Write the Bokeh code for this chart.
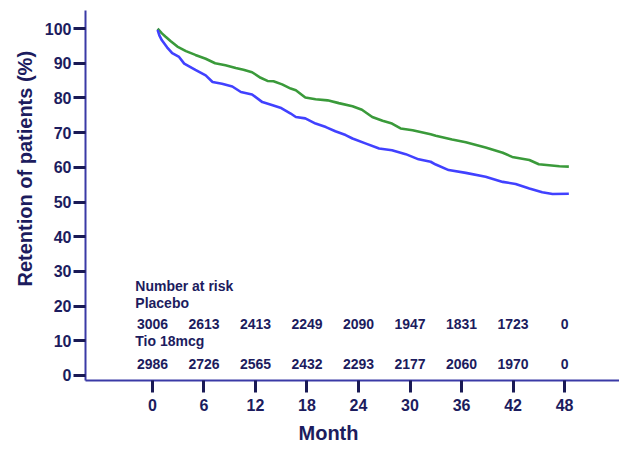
from bokeh.plotting import figure
from bokeh.models import ColumnDataSource, FixedTicker, Label, Range1d, Title
from bokeh.core.properties import value
from bokeh.embed import file_html
from bokeh.resources import INLINE

# ---- data ----
tio_months = [0.6, 1.1, 1.5, 2.1, 2.9, 3.9, 5.0, 6.2, 7.3, 8.5, 9.7, 10.6, 11.6, 12.6, 13.4,
              14.1, 15.1, 16.1, 16.7, 17.8, 19.0, 20.4, 21.7, 23.3, 24.4, 25.6, 26.8, 27.9,
              28.9, 30.3, 32.4, 33.0, 34.9, 36.5, 38.8, 40.8, 41.9, 43.9, 45.0, 46.2, 47.4, 48.5]
tio_retention = [100.0, 98.6, 97.7, 96.4, 94.8, 93.5, 92.4, 91.3, 90.0, 89.4, 88.6, 88.1, 87.4,
                 85.8, 84.9, 84.8, 83.9, 82.7, 82.2, 80.1, 79.6, 79.3, 78.5, 77.6, 76.6, 74.5,
                 73.4, 72.6, 71.2, 70.7, 69.5, 69.1, 68.0, 67.2, 65.7, 64.2, 63.0, 62.1, 60.9,
                 60.6, 60.3, 60.2]

placebo_months = [0.6, 0.8, 1.1, 1.7, 2.3, 3.1, 3.7, 5.0, 6.2, 7.0, 8.1, 9.3, 10.3, 11.6, 12.8,
                  14.0, 14.9, 16.1, 16.7, 17.8, 19.0, 20.2, 21.3, 22.5, 23.3, 24.8, 26.4, 27.9,
                  29.5, 31.0, 32.4, 33.0, 34.5, 36.5, 38.8, 40.8, 42.3, 43.9, 45.4, 46.6, 48.5]
placebo_retention = [99.6, 98.0, 96.6, 94.6, 92.9, 91.8, 89.9, 88.1, 86.5, 84.6, 84.1, 83.3,
                     81.7, 81.0, 78.8, 77.9, 77.2, 75.5, 74.5, 74.1, 72.6, 71.6, 70.4, 69.3,
                     68.3, 66.9, 65.4, 64.9, 63.8, 62.3, 61.6, 60.8, 59.2, 58.4, 57.3, 55.8,
                     55.2, 53.9, 52.8, 52.3, 52.4]

risk_months = [0, 6, 12, 18, 24, 30, 36, 42, 48]
risk_placebo = ["3006", "2613", "2413", "2249", "2090", "1947", "1831", "1723", "0"]
risk_tio = ["2986", "2726", "2565", "2432", "2293", "2177", "2060", "1970", "0"]

x_ticks = [0, 6, 12, 18, 24, 30, 36, 42, 48]
y_ticks = [0, 10, 20, 30, 40, 50, 60, 70, 80, 90, 100]

# ---- styling ----
NAVY = "#1c1c5e"
AXIS = "#3a3aa6"
TICK = "#1a1a55"
GREEN = "#3a9a3a"
BLUE = "#4141ff"
FONT = "Liberation Sans"

p = figure(width=619, height=449, output_backend="svg", toolbar_location=None,
           x_range=Range1d(-7.8, 54.4), y_range=Range1d(-1.45, 105.2),
           min_border_left=85, min_border_right=0, min_border_top=10, min_border_bottom=68)
p.outline_line_color = None
p.xgrid.visible = False
p.ygrid.visible = False
p.background_fill_color = "white"

for ax in (p.xaxis[0], p.yaxis[0]):
    ax.axis_line_color = AXIS
    ax.axis_line_width = 2
    ax.major_tick_line_color = TICK
    ax.major_tick_line_width = 3
    ax.major_tick_in = 0
    ax.major_tick_out = 12
    ax.minor_tick_line_color = None
    ax.major_label_text_font = FONT
    ax.major_label_text_font_style = "bold"
    ax.major_label_text_font_size = "16px"
    ax.major_label_text_color = NAVY

p.xaxis.ticker = FixedTicker(ticks=x_ticks)
p.yaxis.ticker = FixedTicker(ticks=y_ticks)
p.xaxis.major_label_standoff = 6
p.yaxis.major_label_standoff = 2

# curves
p.line(tio_months, tio_retention, line_color=GREEN, line_width=2.6)
p.line(placebo_months, placebo_retention, line_color=BLUE, line_width=2.6)

# number at risk table
src_p = ColumnDataSource(dict(x=risk_months, y=[14.7] * len(risk_months), t=risk_placebo))
src_t = ColumnDataSource(dict(x=risk_months, y=[3.4] * len(risk_months), t=risk_tio))
for src in (src_p, src_t):
    p.text(x="x", y="y", text="t", source=src, text_font=value(FONT),
           text_font_style="bold", text_font_size="14px", text_color=NAVY,
           text_align="center", text_baseline="middle")

for txt, yv in (("Number at risk", 25.9), ("Placebo", 21.0), ("Tio 18mcg", 9.8)):
    p.add_layout(Label(x=-2.0, y=yv, text=txt, text_font=FONT, text_font_style="bold",
                       text_font_size="14px", text_color=NAVY, text_align="left",
                       text_baseline="middle"))

# axis titles
p.add_layout(Title(text="Retention of patients (%)", align="left", offset=94,
                   text_font=FONT, text_font_style="bold", text_font_size="20px",
                   text_color=NAVY, standoff=11), "left")
p.add_layout(Title(text="Month", align="left", offset=213,
                   text_font=FONT, text_font_style="bold", text_font_size="20px",
                   text_color=NAVY, standoff=12), "below")

open("out.html", "w").write(file_html(p, INLINE))
